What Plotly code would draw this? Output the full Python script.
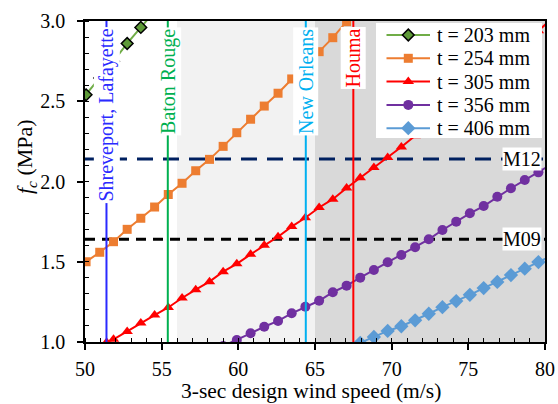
import plotly.graph_objects as go

# wind speeds (m/s) of the computed points
wind_speed = [49.17, 50.07, 50.96, 51.86, 52.75, 53.64, 54.54, 55.43, 56.33, 57.22,
              58.12, 59.01, 59.90, 60.80, 61.69, 62.59, 63.48, 64.37, 65.27, 66.16,
              67.06, 67.95, 68.84, 69.74, 70.63, 71.53, 72.42, 73.31, 74.21, 75.10,
              76.00, 76.89, 77.78, 78.68, 79.57, 80.47]

fc_203 = [2.44, 2.54, 2.645, 2.75, 2.86, 2.96, 3.06]
fc_254 = [1.44, 1.50, 1.559, 1.625, 1.702, 1.771, 1.841, 1.919, 1.989, 2.067, 2.138,
          2.219, 2.304, 2.388, 2.470, 2.550, 2.639, 2.724, 2.809, 2.896, 2.996, 3.085]
x_305 = [51.41] + wind_speed[3:]
fc_305 = [0.998, 1.017, 1.066, 1.118, 1.168, 1.215, 1.274, 1.326, 1.376, 1.438, 1.487,
          1.546, 1.603, 1.656, 1.719, 1.774, 1.838, 1.890, 1.960, 2.024, 2.087, 2.150,
          2.215, 2.285, 2.355, 2.427, 2.499, 2.572, 2.646, 2.720, 2.795, 2.868, 2.940, 3.015]
fc_356 = [0.975, 1.012, 1.054, 1.095, 1.131, 1.179, 1.220, 1.257, 1.310, 1.351, 1.401,
          1.449, 1.497, 1.542, 1.590, 1.640, 1.698, 1.750, 1.802, 1.847, 1.905, 1.958,
          2.009, 2.057, 2.11]
fc_406 = [0.995, 1.031, 1.069, 1.098, 1.135, 1.176, 1.217, 1.255, 1.294, 1.336, 1.374,
          1.417, 1.457, 1.498, 1.54]

series_names = ["t = 203 mm", "t = 254 mm", "t = 305 mm", "t = 356 mm", "t = 406 mm"]

# design wind speeds of cities
cities = ["Shreveport, Lafayette", "Baton Rouge", "New Orleans", "Houma"]
city_speed = [51.4, 55.4, 64.4, 67.5]
city_colors = ["#2a2aff", "#00b050", "#00b0f0", "#ff0000"]

# code requirement levels
codes = ["M12", "M09"]
code_fc = [2.14, 1.64]
code_colors = ["#002060", "#000000"]

# shaded ranges
zones = [(56, 65), (65, 80)]
zone_colors = ["#f2f2f2", "#d9d9d9"]

x_title = "3-sec design wind speed (m/s)"
y_title = "<i>f<sub>c</sub></i> (MPa)"

FONT = "Liberation Serif"
W, H = 558, 404
ML, MR, MT, MB = 85, 13, 21, 62

fig = go.Figure()

styles = [
    ("#70ad47", dict(symbol="diamond", size=9, color="#5e9a38",
                     line=dict(color="#000000", width=1.5))),
    ("#ed7d31", dict(symbol="square", size=9, color="#ed7d31")),
    ("#ff0000", dict(symbol="triangle-up", size=10, color="#ff0000")),
    ("#7030a0", dict(symbol="circle", size=10, color="#7030a0")),
    ("#5b9bd5", dict(symbol="diamond", size=11, color="#5b9bd5")),
]
data = [
    (wind_speed[0:7], fc_203),
    (wind_speed[0:22], fc_254),
    (x_305, fc_305),
    (wind_speed[11:36], fc_356),
    (wind_speed[21:36], fc_406),
]
for (xs, ys), (col, mk), name in zip(data, styles, series_names):
    fig.add_trace(go.Scatter(x=xs, y=ys, mode="lines+markers", name=name,
                             line=dict(color=col, width=2), marker=mk, showlegend=False))

# ---- hand-made legend on an overlay axis measured in page pixels ----
LEG_X0, LEG_X1, LEG_Y0, LEG_Y1 = 376, 542, 23, 138
pw, ph = W - ML - MR, H - MT - MB
leg_dom_x = [(LEG_X0 - ML) / pw, (LEG_X1 - ML) / pw]
leg_dom_y = [(H - MB - LEG_Y1) / ph, (H - MB - LEG_Y0) / ph]
fig.add_trace(go.Scatter(x=[LEG_X0, LEG_X1, LEG_X1, LEG_X0, LEG_X0],
                         y=[LEG_Y0, LEG_Y0, LEG_Y1, LEG_Y1, LEG_Y0],
                         fill="toself", fillcolor="white", mode="lines",
                         line=dict(width=0, color="white"), hoverinfo="skip",
                         showlegend=False, xaxis="x2", yaxis="y2"))
row_y0, row_step = 35, 23.3
annotations = []
for k, ((col, mk), name) in enumerate(zip(styles, series_names)):
    ry = row_y0 + k * row_step
    fig.add_trace(go.Scatter(x=[386.5, 430], y=[ry, ry], mode="lines",
                             line=dict(color=col, width=2), hoverinfo="skip",
                             showlegend=False, xaxis="x2", yaxis="y2"))
    fig.add_trace(go.Scatter(x=[408.3], y=[ry], mode="markers", marker=mk,
                             hoverinfo="skip", showlegend=False, xaxis="x2", yaxis="y2"))
    annotations.append(dict(x=435, y=ry, xref="x2", yref="y2", text=name, showarrow=False,
                            xanchor="left", yanchor="middle",
                            font=dict(family=FONT, size=20, color="black")))

shapes = []
for (x0, x1), c in zip(zones, zone_colors):
    shapes.append(dict(type="rect", xref="x", yref="paper", x0=x0, x1=x1, y0=0, y1=1,
                       fillcolor=c, line=dict(width=0), layer="below"))
code_dash = ["16px,10px", "10px,7px"]
for v, c, d in zip(code_fc, code_colors, code_dash):
    shapes.append(dict(type="line", xref="paper", yref="y", x0=0, x1=1, y0=v, y1=v,
                       line=dict(color=c, width=3, dash=d), layer="below"))
for v, c in zip(city_speed, city_colors):
    shapes.append(dict(type="line", xref="x", yref="paper", x0=v, x1=v, y0=0, y1=1,
                       line=dict(color=c, width=2), layer="above"))

for name, v, c in zip(cities, city_speed, city_colors):
    annotations.append(dict(x=v, y=2.965, xref="x", yref="y", text=name, textangle=-90,
                            showarrow=False, xanchor="center", yanchor="top",
                            font=dict(family=FONT, size=20, color=c),
                            bgcolor="white", borderpad=1))
for name, v in zip(codes, code_fc):
    annotations.append(dict(x=78.53, y=v, xref="x", yref="y", text=name, showarrow=False,
                            xanchor="center", yanchor="middle",
                            font=dict(family=FONT, size=20, color="black"),
                            bgcolor="white", borderpad=0))

# axis titles as annotations (positioned like the original)
annotations.append(dict(x=(26 - ML) / pw, y=(H - MB - 156) / ph, xref="paper", yref="paper",
                        text=y_title, textangle=-90, showarrow=False,
                        xanchor="center", yanchor="middle",
                        font=dict(family=FONT, size=22, color="black")))
annotations.append(dict(x=(311 - ML) / pw, y=(H - MB - 404) / ph, xref="paper",
                        yref="paper", text=x_title, showarrow=False,
                        xanchor="center", yanchor="bottom", borderpad=0,
                        font=dict(family=FONT, size=21.5, color="black")))

fig.update_layout(
    width=W, height=H,
    margin=dict(l=ML, r=MR, t=MT, b=MB, autoexpand=False),
    paper_bgcolor="white", plot_bgcolor="white",
    font=dict(family=FONT, size=20, color="black"),
    shapes=shapes, annotations=annotations,
    showlegend=False,
    xaxis=dict(range=[50, 80], dtick=5, tick0=50, showgrid=False, zeroline=False,
               automargin=False,
               showline=True, linecolor="black", linewidth=1.5, mirror=True,
               ticks="outside", ticklen=6, tickcolor="black", tickwidth=1.5,
               ticklabelstandoff=2,
               minor=dict(dtick=1, ticks="inside", ticklen=4, tickcolor="black", tickwidth=1),
               tickfont=dict(family=FONT, size=20)),
    yaxis=dict(range=[1, 3], dtick=0.5, tick0=1, tickformat=".1f", showgrid=False,
               automargin=False,
               zeroline=False, showline=True, linecolor="black", linewidth=1.5, mirror=True,
               ticks="outside", ticklen=6, tickcolor="black", tickwidth=1.5,
               ticklabelstandoff=8,
               minor=dict(dtick=0.1, ticks="inside", ticklen=4, tickcolor="black", tickwidth=1),
               tickfont=dict(family=FONT, size=20)),
    xaxis2=dict(domain=leg_dom_x, range=[LEG_X0, LEG_X1], anchor="y2", visible=False,
                fixedrange=True),
    yaxis2=dict(domain=leg_dom_y, range=[LEG_Y1, LEG_Y0], anchor="x2", visible=False,
                fixedrange=True),
)

fig.write_html("out.html", post_script="document.body.style.margin='0';",
               config={"displayModeBar": False})
